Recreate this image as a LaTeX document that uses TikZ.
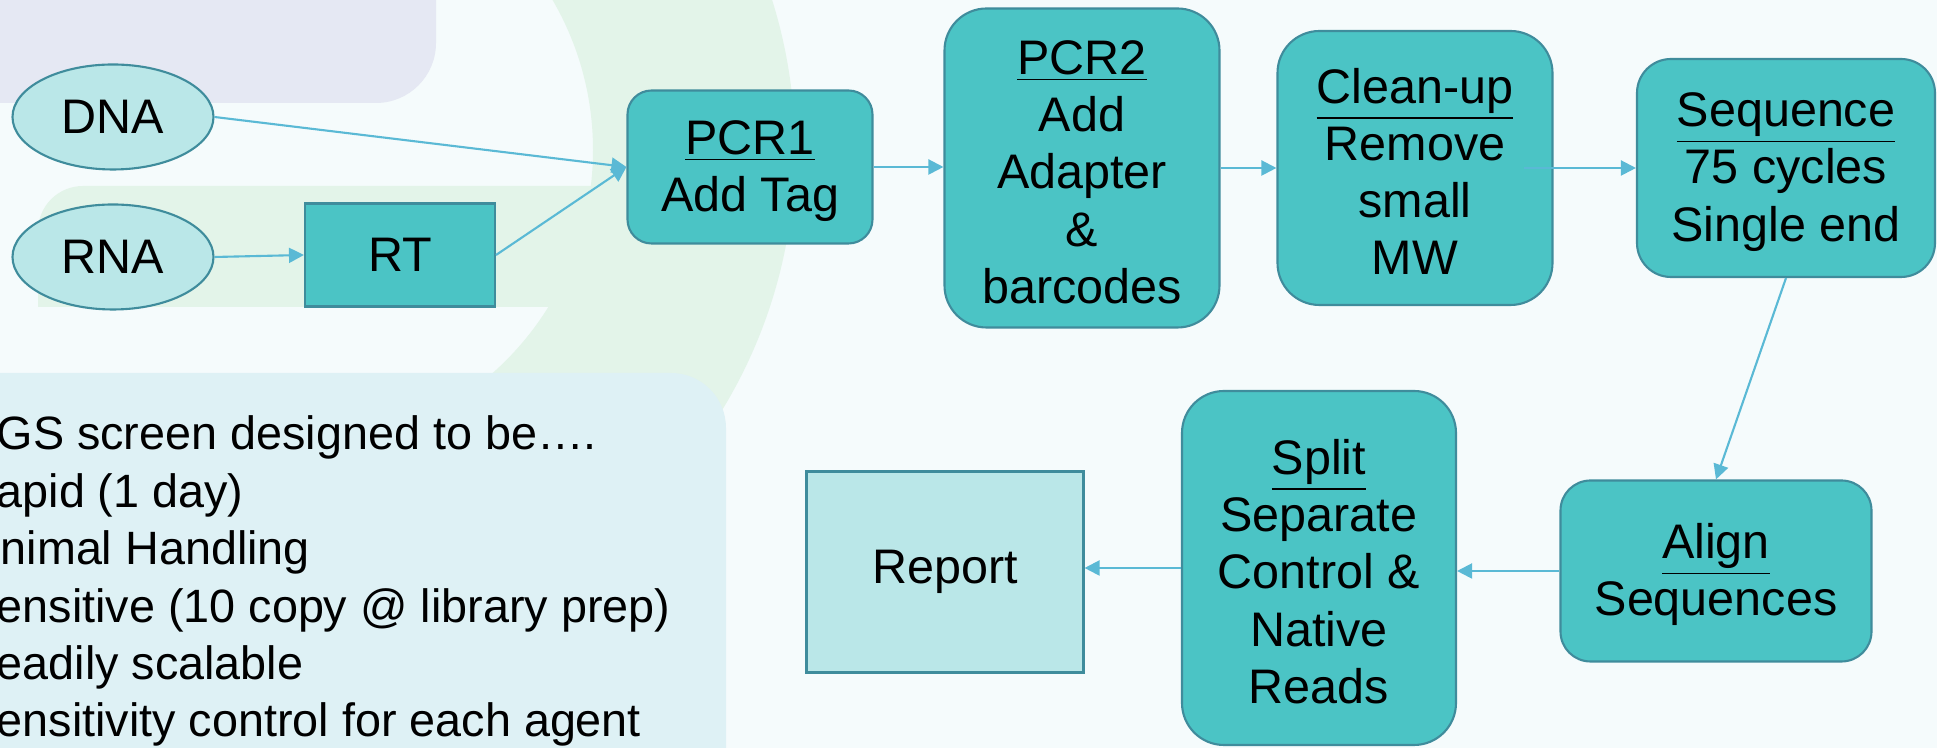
\documentclass[tikz,border=0pt]{standalone}
\usepackage{fontspec}
\setmainfont{Liberation Sans}
\usetikzlibrary{shapes.geometric,arrows.meta}

\definecolor{pagebg}{HTML}{F5FBFC}
\definecolor{lavender}{HTML}{E5E8F3}
\definecolor{leafgreen}{HTML}{E3F4E9}
\definecolor{notebg}{HTML}{DEF1F5}
\definecolor{tealfill}{HTML}{4BC4C5}
\definecolor{paleteal}{HTML}{BAE7E8}
\definecolor{tealedge}{HTML}{3F8C9C}
\definecolor{flowblue}{HTML}{5AB9D5}

% underlined heading of a step box, with a strut to sit the lines a bit lower
\newcommand\steptitle[1]{\rule{0pt}{4.2mm}\underline{#1}}

\tikzset{
  every node/.style={font=\fontsize{13.8pt}{16.3pt}\selectfont, align=center, inner sep=0pt},
  sample/.style={ellipse, draw=tealedge, line width=0.6pt, fill=paleteal,
    minimum width=20.1mm, minimum height=10.5mm},
  stage/.style={rectangle, draw=tealedge, line width=0.6pt, fill=tealfill},
  flow/.style={draw=flowblue, line width=0.6pt, -{Triangle[length=1.5mm,width=1.5mm]}}
}

\begin{document}
\begin{tikzpicture}[x=0.1mm,y=-0.1mm]
\useasboundingbox (0,0) rectangle (1937,748);
\clip (0,0) rectangle (1937,748);
\fill[pagebg] (0,0) rectangle (1937,748);

% background shapes
\fill[lavender, rounded corners=6mm] (-100,-100) rectangle (436,103);
\begin{scope}
  \clip (295,-10) rectangle (900,760);
  \fill[leafgreen, even odd rule] (295,150) circle[radius=500] (295,150) circle[radius=298];
\end{scope}
\fill[leafgreen] (38,307) [rounded corners=4.5mm] -- (38,186) [sharp corners] -- (600,186) -- (600,307) -- cycle;
\fill[notebg, rounded corners=5.5mm] (-100,373) rectangle (726,850);

\node[anchor=base west, align=left, font=\fontsize{13.3pt}{16.35pt}\selectfont] (notes) at (-4,737)
  {GS screen designed to be….\\apid (1 day)\\\hspace*{0.4mm}nimal Handling\\ensitive (10 copy @ library prep)\\eadily scalable\\ensitivity control for each agent};

% inputs
\node[sample] (dna) at (113,117) {DNA};
\node[sample] (rna) at (113,257) {RNA};
\node[stage, minimum width=19mm, minimum height=10.3mm] (rt) at (400,255) {RT};

% library prep and sequencing
\node[stage, rounded corners=2.4mm, minimum width=24.5mm, minimum height=15.3mm] (pcr1) at (750,167)
  {\steptitle{PCR1}\\Add Tag};
\node[stage, rounded corners=4.2mm, minimum width=27.5mm, minimum height=31.9mm] (pcr2) at (1082,168)
  {\steptitle{PCR2}\\Add\\Adapter\\\&\\barcodes};
\node[stage, rounded corners=4.2mm, minimum width=27.5mm, minimum height=27.4mm] (clean) at (1415,168)
  {\steptitle{Clean-up}\\Remove\\small\\MW};
\node[stage, rounded corners=3.4mm, minimum width=29.8mm, minimum height=21.8mm] (seq) at (1786,168)
  {\steptitle{Sequence}\\75 cycles\\Single end};

% analysis
\node[stage, rounded corners=3mm, minimum width=31.1mm, minimum height=18.1mm] (aln) at (1716,571)
  {\steptitle{Align}\\Sequences};
\node[stage, rounded corners=4.2mm, minimum width=27.4mm, minimum height=35.4mm] (split) at (1319,568)
  {\steptitle{Split}\\Separate\\Control \&\\Native\\Reads};
\node[rectangle, draw=tealedge, line width=0.6pt, fill=paleteal, minimum width=27.7mm, minimum height=20.1mm] (report) at (945,572) {Report};

\draw[flow] (dna.east) -- (pcr1.west);
\draw[flow] (rna.east) -- (rt.west);
\draw[flow] (rt.east) -- (pcr1.west);
\draw[flow] (pcr1.east) -- (pcr1.east -| pcr2.west);
\draw[flow] (pcr2.east) -- (clean.west);
\draw[flow] ([xshift=-3mm]clean.east) -- (seq.west);
\draw[flow] (seq.south) -- (aln.north);
\draw[flow] (aln.west) -- (aln.west -| split.east);
\draw[flow] (split.west) -- (split.west -| report.east);
\end{tikzpicture}
\end{document}
